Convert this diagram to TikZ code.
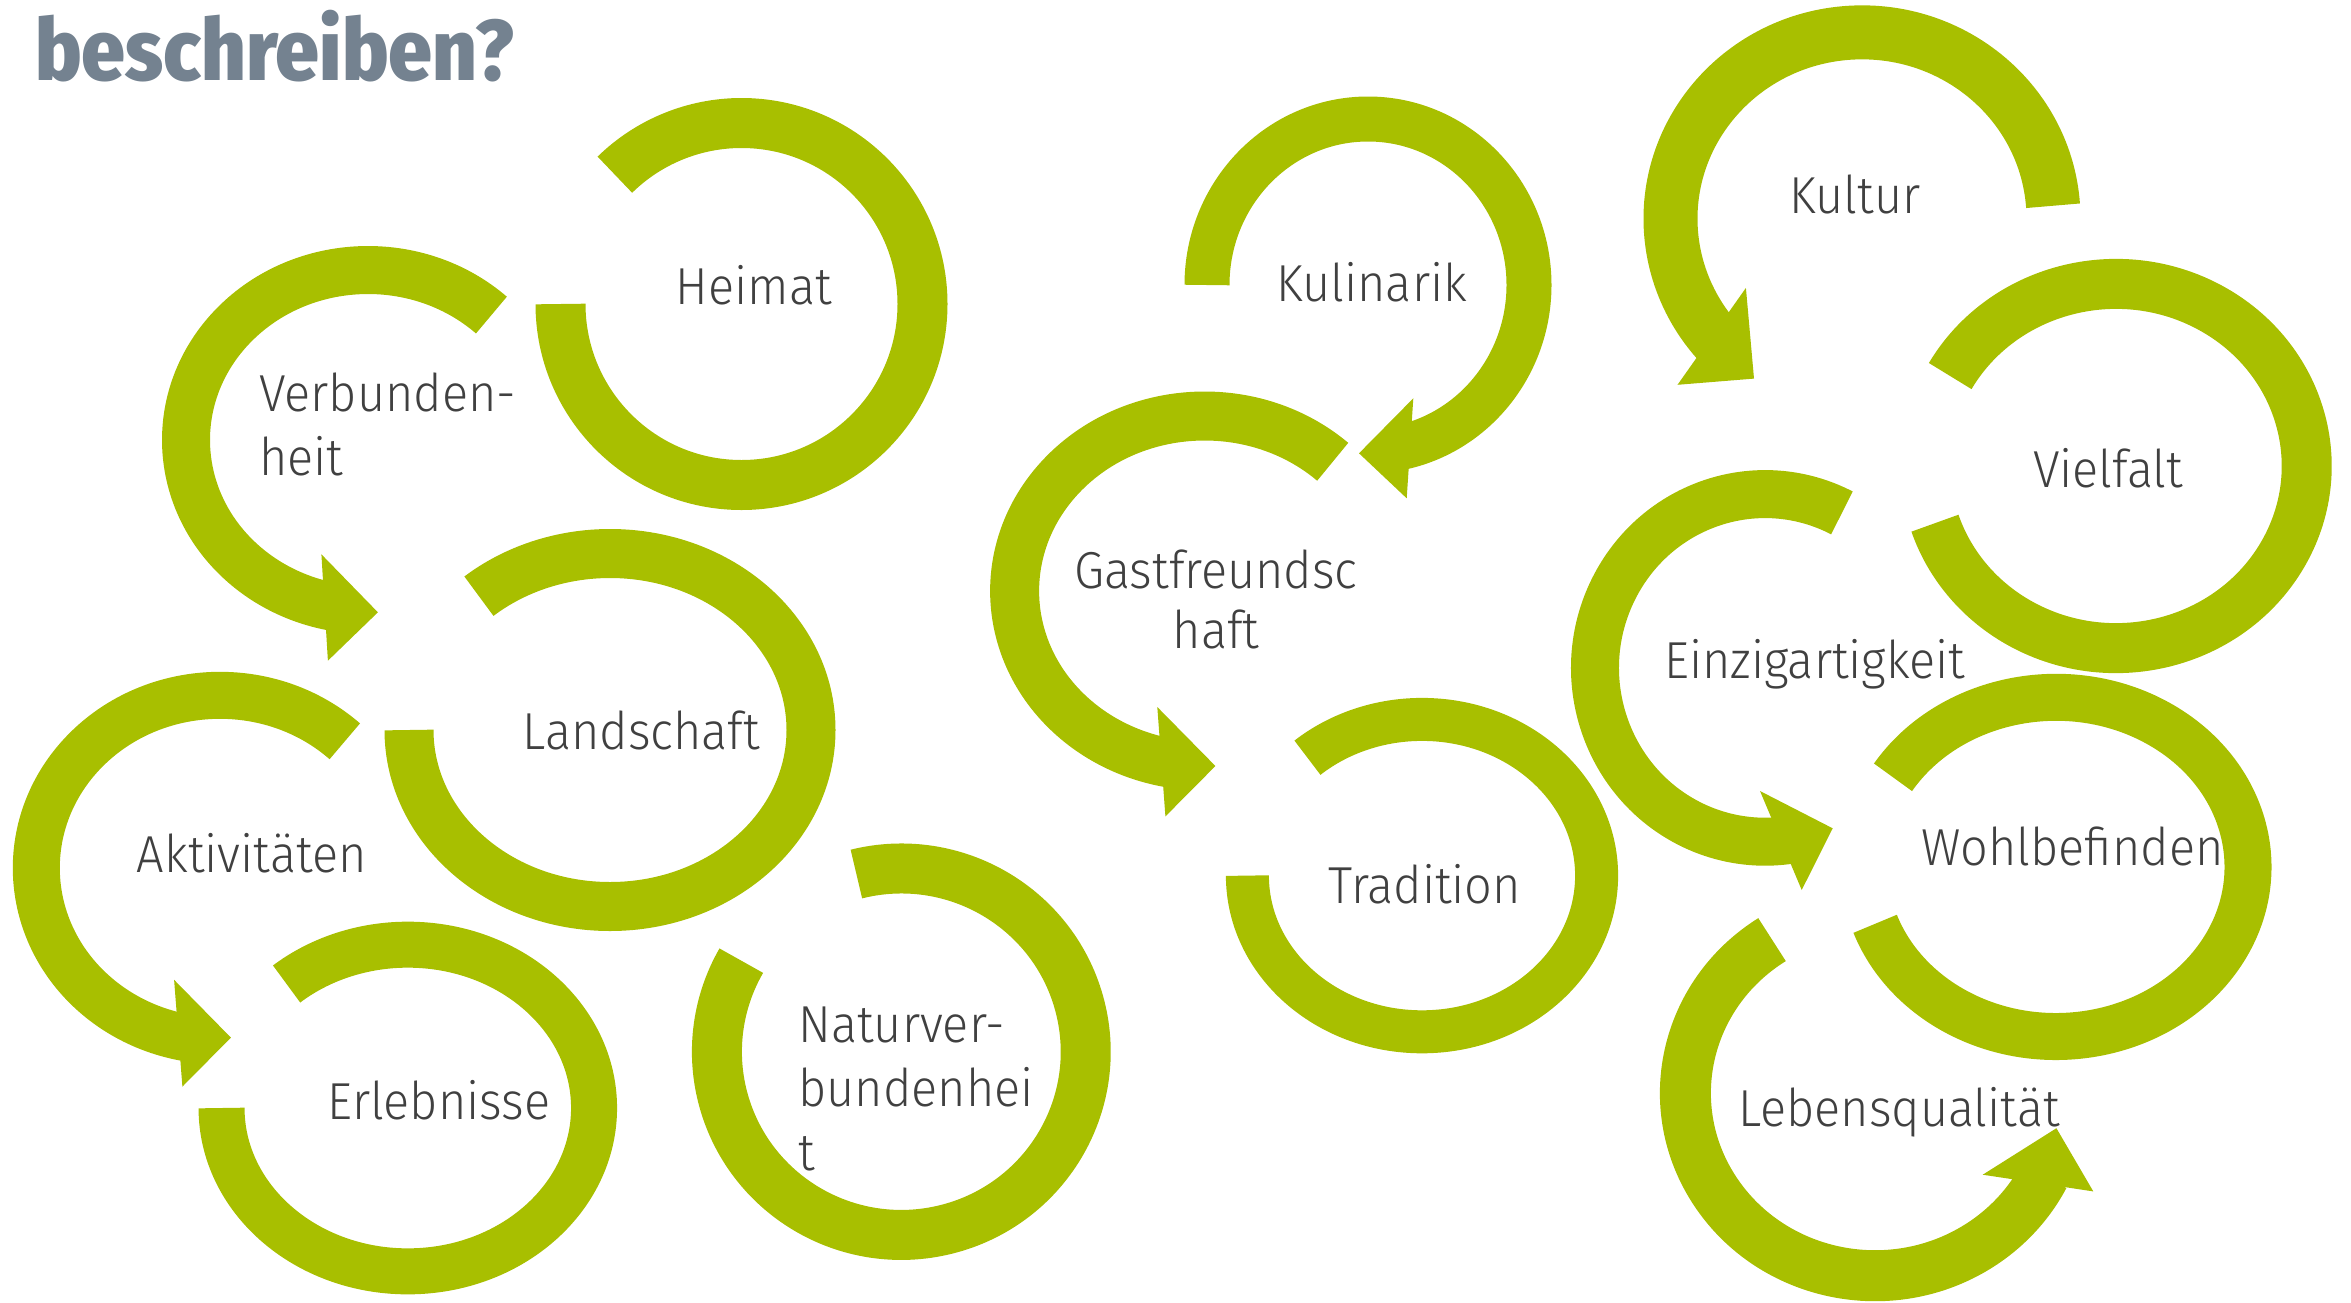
\documentclass[tikz,border=0pt]{standalone}
\usepackage{fontspec}
\IfFontExistsTF{Fira Sans Light}{\newfontfamily\lightfont{Fira Sans Light}}{\newfontfamily\lightfont{Fira Sans}}
\IfFontExistsTF{Fira Sans Condensed ExtraBold}{\newfontfamily\titlefont{Fira Sans Condensed ExtraBold}}{%
  \IfFontExistsTF{Fira Sans ExtraBold}{\newfontfamily\titlefont{Fira Sans ExtraBold}}{\newfontfamily\titlefont{Fira Sans}[UprightFont=*Bold]}}
\definecolor{ringgreen}{HTML}{A8BF00}
\definecolor{txtgrey}{HTML}{404040}
\definecolor{titlegrey}{HTML}{748290}
\newlength\titlew
\tikzset{
  ring/.style={draw=ringgreen, line cap=butt},
  head/.style={fill=ringgreen},
  lbl/.style={font=\lightfont\fontsize{52}{64}\selectfont, text=txtgrey, inner sep=0pt, anchor=base west, xscale=0.935},
}
% centre x, centre y, x radius, y radius, start angle, end angle, width
\newcommand\ringarc[7]{\draw[ring,line width=#7pt] (#1,#2) ++(#5:#3 and #4) arc[start angle=#5,end angle=#6,x radius=#3,y radius=#4];}
\begin{document}
\settowidth\titlew{\titlefont\fontsize{86}{86}\selectfont beschreiben?}
\pgfmathsetmacro\tsx{478.6/\titlew}
\begin{tikzpicture}[x=1pt,y=-1pt]
\useasboundingbox (0,0) rectangle (2351,1302);
% title
\node[anchor=base west, inner sep=0pt, text=titlegrey, font=\titlefont\fontsize{86}{86}\selectfont, xscale=\tsx] (title) at (34.8,80) {beschreiben?};
% rings without arrowheads
\ringarc{741.5}{304}{181}{181}{180}{-134.4}{50}            % Heimat
\ringarc{610}{730}{201}{176.5}{180}{-130.7}{49}           % Landschaft
\ringarc{407.8}{1108}{186.25}{163.35}{180}{-130.6}{46}    % Erlebnisse
\ringarc{901.3}{1051.7}{184.4}{183.2}{-104.1}{209.8}{50}  % Naturverbundenheit
\ringarc{1422}{875.6}{174.6}{156.2}{180}{-131}{43}        % Tradition
\ringarc{2116}{466}{190.7}{182.1}{-150.4}{161.7}{50}      % Vielfalt
\ringarc{2056}{866.9}{192}{169.6}{-148.1}{160.4}{47}      % Wohlbefinden
% rings with arrowheads
\ringarc{368}{440}{182}{170}{-47.3}{-259}{48}             % Verbundenheit
\fill[head] (321.4,554.3) -- (377.9,612.3) -- (327.9,660.7) -- cycle;
\ringarc{220}{868}{183.7}{172.7}{-47.2}{-259.5}{47}       % Aktivitaeten
\fill[head] (174.1,979.8) -- (230.9,1037.6) -- (182.4,1086.6) -- cycle;
\ringarc{1368}{285}{161}{166}{180}{437.5}{45}             % Kulinarik
\fill[head] (1413.3,398.3) -- (1359,453.3) -- (1406.7,498.3) -- cycle;
\ringarc{1204.6}{591}{190}{175}{-47.6}{-259.5}{49}        % Gastfreundschaft
\fill[head] (1157.3,707) -- (1215.4,766) -- (1165.4,816.4) -- cycle;
\ringarc{1862}{218.75}{191.5}{186.4}{-4}{-221.5}{54}      % Kultur
\fill[head] (1745.9,287.9) -- (1754,378.6) -- (1677.5,384.8) -- cycle;
\ringarc{1765}{667.9}{170}{173.8}{-63.1}{-278}{48}        % Einzigartigkeit
\fill[head] (1760,791) -- (1832.7,828.3) -- (1801.7,890) -- cycle;
\ringarc{1875}{1093}{189.6}{182.7}{-122.9}{-333}{51}      % Lebensqualitaet
\fill[head] (1982.7,1174.7) -- (2056.4,1128.2) -- (2093.3,1191.4) -- cycle;
% labels
\node[lbl] (heimat) at (675.7,304) {Heimat};
\node[lbl] (verbundenheit) at (259,411.7) {\begin{tabular}[t]{@{}l@{}}Verbunden-\\heit\end{tabular}};
\node[lbl] (landschaft) at (522.3,749.3) {Landschaft};
\node[lbl] (aktivitaeten) at (136.8,872.2) {Aktivitäten};
\node[lbl] (erlebnisse) at (327.5,1119) {Erlebnisse};
\node[lbl] (naturverbundenheit) at (798.3,1042.7) {\begin{tabular}[t]{@{}l@{}}Naturver-\\bundenhei\\t\end{tabular}};
\node[lbl] (kulinarik) at (1276,301.7) {Kulinarik};
\node[lbl, anchor=base, font=\lightfont\fontsize{52}{60}\selectfont] (gastfreundschaft) at (1216,588.75) {\begin{tabular}[t]{@{}c@{}}Gastfreundsc\\haft\end{tabular}};
\node[lbl] (tradition) at (1328.3,903.5) {Tradition};
\node[lbl] (kultur) at (1789,213.4) {Kultur};
\node[lbl] (vielfalt) at (2032.9,487.5) {Vielfalt};
\node[lbl] (einzigartigkeit) at (1664,678.3) {Einzigartigkeit};
\node[lbl] (wohlbefinden) at (1921.4,865) {Wohlbefinden};
\node[lbl] (lebensqualitaet) at (1738.2,1126) {Lebensqualität};
\end{tikzpicture}
\end{document}
